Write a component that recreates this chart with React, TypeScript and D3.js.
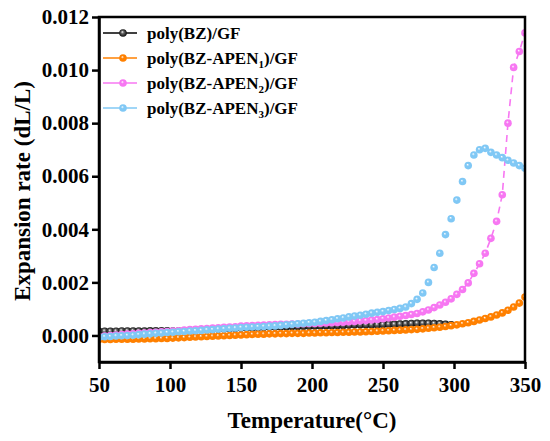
import React, { useEffect, useRef } from 'react';
import * as d3 from 'd3';

// temperature grid of the measurement (°C)
const temps = [
  50, 54, 58, 62, 66, 70, 74, 78, 82, 86, 90, 94, 98, 102, 106, 110, 114, 118, 122, 126,
  130, 134, 138, 142, 146, 150, 154, 158, 162, 166, 170, 174, 178, 182, 186, 190, 194, 198, 202, 206,
  210, 214, 218, 222, 226, 230, 234, 238, 242, 246, 250, 254, 258, 262, 266, 270, 274, 278, 282, 286,
  290, 294, 298, 302, 306, 310, 314, 318, 322, 326, 330, 334, 338, 342, 346, 350,
];

// poly(BZ)/GF stops at 298 °C
const bzValues = [
  0.00016, 0.00016, 0.00016, 0.00016, 0.00017, 0.00017, 0.00017, 0.00017, 0.00017, 0.00018,
  0.00018, 0.00018, 0.00018, 0.00017, 0.00017, 0.00018, 0.00019, 0.0002, 0.00021, 0.00022,
  0.00023, 0.00024, 0.00025, 0.00026, 0.00027, 0.00028, 0.00029, 0.0003, 0.0003, 0.00031,
  0.00032, 0.00032, 0.00033, 0.00033, 0.00034, 0.00034, 0.00035, 0.00035, 0.00036, 0.00036,
  0.00037, 0.00037, 0.00038, 0.00038, 0.00039, 0.0004, 0.0004, 0.0004, 0.0004, 0.0004,
  0.00041, 0.00042, 0.00042, 0.00043, 0.00044, 0.00045, 0.00046, 0.00046, 0.00046, 0.00045,
  0.00044, 0.00042, 0.0004,
];

const apen1Values = [
  -0.00015, -0.00015, -0.00015, -0.00014, -0.00014, -0.00014, -0.00014, -0.00013, -0.00013, -0.00012,
  -0.00012, -0.00011, -0.00011, -0.0001, -0.00009, -0.00008, -0.00007, -0.00006, -0.00005, -0.00004,
  -0.00003, -0.00002, -0.00001, 0.0, 0.00001, 0.00002, 0.00003, 0.00004, 0.00005, 0.00005,
  0.00006, 0.00006, 0.00007, 0.00007, 0.00008, 0.00008, 0.00008, 0.00009, 0.00009, 0.0001,
  0.0001, 0.00011, 0.00011, 0.00012, 0.00012, 0.00013, 0.00013, 0.00014, 0.00015, 0.00016,
  0.00017, 0.00018, 0.00019, 0.0002, 0.00021, 0.00022, 0.00023, 0.00025, 0.00027, 0.00029,
  0.00031, 0.00034, 0.00037, 0.0004, 0.00044, 0.00048, 0.00053, 0.00058, 0.00064, 0.0007,
  0.00077, 0.00085, 0.00095, 0.00107, 0.00122, 0.00145,
];

const apen2Values = [
  -0.00004, -0.00002, 0.0, 0.00002, 0.00003, 0.00005, 0.00006, 0.00008, 0.00009, 0.00011,
  0.00012, 0.00014, 0.00015, 0.00017, 0.00018, 0.0002, 0.00022, 0.00023, 0.00025, 0.00026,
  0.00028, 0.00029, 0.00031, 0.00032, 0.00033, 0.00035, 0.00036, 0.00037, 0.00038, 0.00039,
  0.0004, 0.00041, 0.00042, 0.00042, 0.00043, 0.00043, 0.00044, 0.00045, 0.00045, 0.00046,
  0.00047, 0.00048, 0.00049, 0.0005, 0.00052, 0.00053, 0.00055, 0.00056, 0.00058, 0.0006,
  0.00063, 0.00066, 0.00069, 0.00072, 0.00075, 0.00079, 0.00083, 0.00089, 0.00096, 0.00105,
  0.00115, 0.00125, 0.00138, 0.00155, 0.00173, 0.00198, 0.00234, 0.0027, 0.0031, 0.00366,
  0.0043, 0.0053, 0.008, 0.0101, 0.0107, 0.0114,
];

const apen3Values = [
  -0.00007, -0.00005, -0.00004, -0.00002, -0.00001, 0.0, 0.00001, 0.00003, 0.00005, 0.00006,
  0.00008, 0.00009, 0.00011, 0.00012, 0.00014, 0.00015, 0.00017, 0.00018, 0.00019, 0.00021,
  0.00022, 0.00024, 0.00025, 0.00027, 0.00028, 0.0003, 0.00031, 0.00032, 0.00033, 0.00034,
  0.00035, 0.00036, 0.00038, 0.0004, 0.00042, 0.00044, 0.00046, 0.00048, 0.0005, 0.00053,
  0.00056, 0.00059, 0.00063, 0.00066, 0.0007, 0.00073, 0.00076, 0.0008, 0.00084, 0.00087,
  0.0009, 0.00094, 0.00098, 0.00102, 0.00107, 0.0012, 0.00136, 0.0016, 0.002, 0.00256,
  0.0031, 0.0038, 0.0044, 0.0051, 0.0058, 0.0064, 0.0068, 0.007, 0.00705, 0.0069,
  0.0068, 0.0067, 0.0066, 0.0065, 0.0064, 0.0063,
];

const seriesNames = ['BZ', 'APEN1', 'APEN2', 'APEN3'];
const seriesColors = ['#000000', '#ff8000', '#f777f2', '#80c8f5'];
const xTicks = [50, 100, 150, 200, 250, 300, 350];
const yTicks = [0, 0.002, 0.004, 0.006, 0.008, 0.01, 0.012];

const FONT = "'Liberation Serif', 'Times New Roman', serif";

const App = () => {
  const ref = useRef<SVGSVGElement | null>(null);

  useEffect(() => {
    const width = 550;
    const height = 441;
    const margin = { top: 17, right: 25, bottom: 79, left: 99 };
    const w = width - margin.left - margin.right;
    const h = height - margin.top - margin.bottom;

    const svg = d3.select(ref.current);
    svg.selectAll('*').remove();

    const defs = svg.append('defs');
    seriesColors.forEach((c, i) => {
      const g = defs.append('radialGradient')
        .attr('id', `ball${i}`)
        .attr('cx', '50%').attr('cy', '50%').attr('r', '55%')
        .attr('fx', '40%').attr('fy', '35%');
      g.append('stop').attr('offset', '0%').attr('stop-color', '#ffffff');
      g.append('stop').attr('offset', '35%').attr('stop-color', i === 0 ? '#666' : c);
      g.append('stop').attr('offset', '100%').attr('stop-color', c);
    });
    defs.append('clipPath').attr('id', 'plotClip')
      .append('rect').attr('width', w).attr('height', h);

    const graph = svg.append('g')
      .attr('transform', `translate(${margin.left}, ${margin.top})`);

    const xScale = d3.scaleLinear().domain([50, 350]).range([0, w]);
    const yScale = d3.scaleLinear().domain([-0.001, 0.012]).range([h, 0]);

    const allSeries = [bzValues, apen1Values, apen2Values, apen3Values];

    const plot = graph.append('g').attr('clip-path', 'url(#plotClip)');

    // dashed connecting line of poly(BZ-APEN2)/GF
    const line = d3.line<number>()
      .x((d, i) => xScale(temps[i]))
      .y(d => yScale(d));
    plot.append('path')
      .datum(apen2Values)
      .attr('d', line)
      .attr('fill', 'none')
      .attr('stroke', seriesColors[2])
      .attr('stroke-width', 1.6)
      .attr('stroke-dasharray', '7,5');

    allSeries.forEach((vals, s) => {
      plot.selectAll(`.dot${s}`)
        .data(vals)
        .join('circle')
        .attr('class', `dot${s}`)
        .attr('cx', (d, i) => xScale(temps[i]))
        .attr('cy', d => yScale(d))
        .attr('r', 3.8)
        .attr('fill', `url(#ball${s})`);
    });

    // frame
    graph.append('rect')
      .attr('width', w).attr('height', h)
      .attr('fill', 'none').attr('stroke', '#000').attr('stroke-width', 2.5);

    // X-axis
    const xAxis = graph.append('g')
      .attr('transform', `translate(0, ${h})`)
      .call(d3.axisBottom(xScale).tickValues(xTicks).tickSize(7).tickSizeOuter(0).tickFormat(d3.format('d')));
    xAxis.selectAll('text').attr('dy', null).attr('y', 30);

    // Y-axis
    const yAxis = graph.append('g')
      .call(d3.axisLeft(yScale).tickValues(yTicks).tickSize(7).tickSizeOuter(0).tickPadding(3).tickFormat(d3.format('.3f')));

    [xAxis, yAxis].forEach(ax => {
      ax.select('.domain').attr('stroke-width', 2.5);
      ax.selectAll('line').attr('stroke-width', 2.5);
      ax.selectAll('text')
        .attr('font-family', FONT)
        .attr('font-weight', 'bold')
        .attr('font-size', 21)
        .attr('fill', '#000');
    });

    svg.append('text')
      .attr('x', margin.left + w / 2)
      .attr('y', 428)
      .attr('text-anchor', 'middle')
      .attr('font-family', FONT)
      .attr('font-weight', 'bold')
      .attr('font-size', 23)
      .text('Temperature(°C)');

    svg.append('text')
      .attr('transform', `translate(30, ${margin.top + 174}) rotate(-90)`)
      .attr('text-anchor', 'middle')
      .attr('font-family', FONT)
      .attr('font-weight', 'bold')
      .attr('font-size', 23)
      .text('Expansion rate (dL/L)');

    // Legend
    const legend = svg.append('g');
    seriesNames.forEach((name, i) => {
      const y = 33 + i * 25;
      legend.append('line')
        .attr('x1', 103).attr('x2', 137).attr('y1', y).attr('y2', y)
        .attr('stroke', seriesColors[i]).attr('stroke-width', 1.6);
      legend.append('circle')
        .attr('cx', 123).attr('cy', y).attr('r', 3.8)
        .attr('fill', `url(#ball${i})`);
      const t = legend.append('text')
        .attr('x', 147).attr('y', y + 6)
        .attr('font-family', FONT)
        .attr('font-weight', 'bold')
        .attr('font-size', 17);
      if (name === 'BZ') {
        t.text('poly(BZ)/GF');
      } else {
        t.append('tspan').text('poly(BZ-APEN');
        t.append('tspan').attr('font-size', 11).attr('dy', 4).text(name.slice(4));
        t.append('tspan').attr('dy', -4).text(')/GF');
      }
    });
  }, []);

  return (
    <svg ref={ref} width={550} height={441}
      style={{ position: 'absolute', left: 0, top: 0, background: '#fff' }} />
  );
};

export default App;
